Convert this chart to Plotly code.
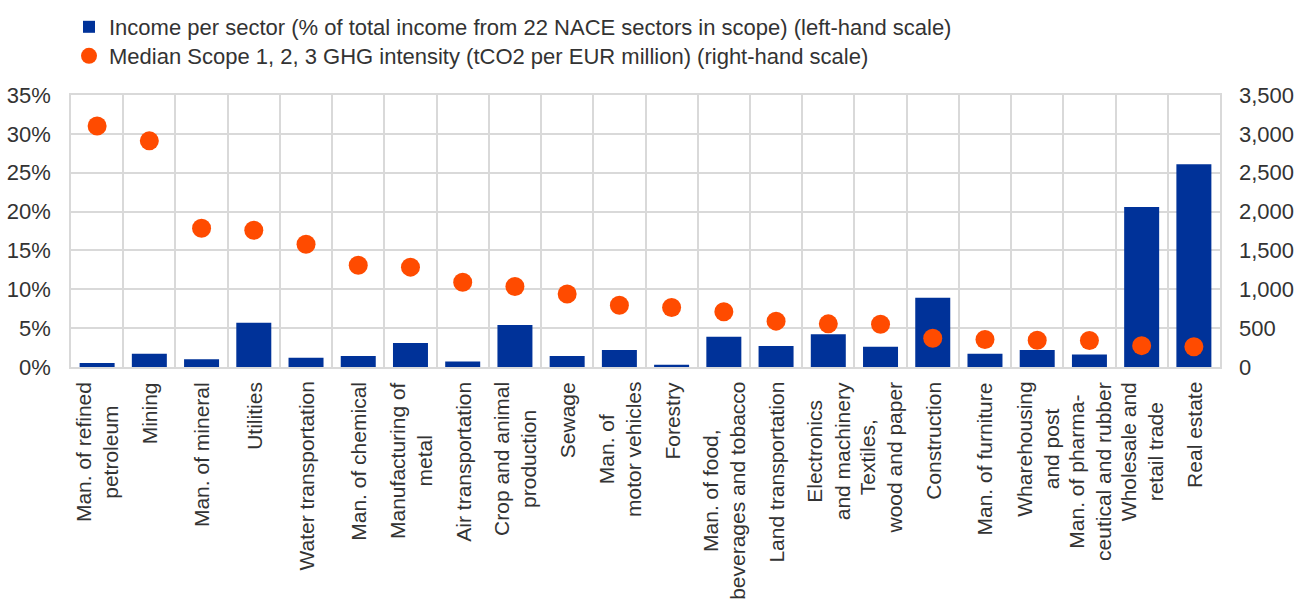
import plotly.graph_objects as go

categories = [
    "Man. of refined<br>petroleum", "Mining", "Man. of mineral", "Utilities",
    "Water transportation", "Man. of chemical", "Manufacturing of<br>metal",
    "Air transportation", "Crop and animal<br>production", "Sewage",
    "Man. of<br>motor vehicles", "Forestry", "Man. of food,<br>beverages and tobacco",
    "Land transportation", "Electronics<br>and machinery", "Textiles,<br>wood and paper",
    "Construction", "Man. of furniture", "Wharehousing<br>and post",
    "Man. of pharma-<br>ceutical and rubber", "Wholesale and<br>retail trade", "Real estate",
]
income_share = [0.5, 1.7, 1.0, 5.7, 1.2, 1.4, 3.1, 0.7, 5.4, 1.4, 2.2, 0.3,
                3.9, 2.7, 4.2, 2.6, 8.9, 1.7, 2.2, 1.6, 20.6, 26.1]
ghg_intensity = [3100, 2910, 1785, 1760, 1580, 1310, 1285, 1090, 1035, 940, 795, 765,
                 710, 590, 555, 550, 370, 355, 345, 340, 275, 260]

left_ticks = [0, 5, 10, 15, 20, 25, 30, 35]
left_tick_labels = ["0%", "5%", "10%", "15%", "20%", "25%", "30%", "35%"]
right_ticks = [0, 500, 1000, 1500, 2000, 2500, 3000, 3500]
right_tick_labels = ["0", "500", "1,000", "1,500", "2,000", "2,500", "3,000", "3,500"]

name_bar = "Income per sector (% of total income from 22 NACE sectors in scope) (left-hand scale)"
name_dot = "Median Scope 1, 2, 3 GHG intensity (tCO2 per EUR million) (right-hand scale)"

BLUE = "#003299"
ORANGE = "#FF4B00"
GRID = "#d9d9d9"
TXT = "#333333"
FONT = "Liberation Sans, Arial, sans-serif"

fig = go.Figure()
fig.add_trace(go.Bar(x=categories, y=income_share, name=name_bar, legend="legend",
                     marker=dict(color=BLUE, line=dict(width=0)), yaxis="y"))
fig.add_trace(go.Scatter(x=categories, y=ghg_intensity, name=name_dot, mode="markers",
                         legend="legend2",
                         marker=dict(color=ORANGE, size=19, line=dict(width=0)), yaxis="y2"))

annotations = []
for c in categories:
    annotations.append(dict(x=c, xref="x", y=0, yref="paper", yshift=-13,
                            yanchor="top", xanchor="center", text=c, textangle=-90,
                            showarrow=False, align="center",
                            font=dict(size=21, color=TXT, family=FONT)))

legend_common = dict(xref="container", yref="container", x=69/1298,
                     xanchor="left", yanchor="top", bgcolor="rgba(0,0,0,0)",
                     font=dict(size=22, color=TXT, family=FONT))

fig.update_layout(
    width=1298, height=608,
    margin=dict(l=71, r=78, t=95, b=241, autoexpand=False),
    plot_bgcolor="white", paper_bgcolor="white",
    font=dict(family=FONT, size=22, color=TXT),
    bargap=0.33,
    showlegend=True,
    legend=dict(legend_common, y=1 - 6/608),
    legend2=dict(legend_common, y=1 - 35/608),
    xaxis=dict(type="category", range=[-0.5, len(categories) - 0.5],
               showticklabels=True, tickfont=dict(size=1, color="rgba(0,0,0,0)"),
               tickson="boundaries",
               showgrid=True, gridcolor=GRID, gridwidth=1.5, ticks="",
               showline=True, linecolor=GRID, linewidth=1.5, mirror=True,
               zeroline=False),
    yaxis=dict(range=[0, 35], tickvals=left_ticks, ticktext=left_tick_labels,
               showgrid=True, gridcolor=GRID, gridwidth=1.5, zeroline=False,
               showline=True, linecolor=GRID, linewidth=1.5, mirror=True,
               ticklabelstandoff=14, tickfont=dict(size=22, color=TXT)),
    yaxis2=dict(range=[0, 3500], tickvals=right_ticks, ticktext=right_tick_labels,
                overlaying="y", side="right", showgrid=False, zeroline=False,
                ticklabelstandoff=18, tickfont=dict(size=22, color=TXT)),
    annotations=annotations,
)

fig.write_html("out.html")
